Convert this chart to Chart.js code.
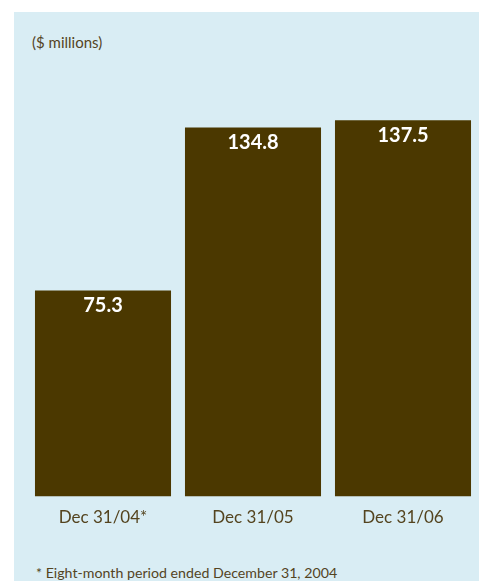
<!DOCTYPE html>
<html lang="en">
<head>
    <meta charset="UTF-8">
    <title>$ millions</title>
    <script src="https://cdn.jsdelivr.net/npm/chart.js"></script>
    <style>
        body { margin: 0; background: #ffffff; width: 479px; height: 581px; overflow: hidden; }
        .panel { position: absolute; left: 14px; top: 12px; width: 465px; height: 569px; background: #d9edf4; }
        .unit { position: absolute; left: 18px; top: 21px; font: 15px Lato, sans-serif; line-height: 18px; color: #54441f; }
        .note { position: absolute; left: 22px; top: 552px; font: 14.2px Lato, sans-serif; line-height: 18px; color: #54441f; white-space: nowrap; }
        .chart-box { position: absolute; left: 0; top: 0; width: 465px; height: 527px; }
    </style>
</head>
<body>
    <div class="panel">
        <div class="unit">($ millions)</div>
        <div class="chart-box"><canvas id="chart"></canvas></div>
        <div class="note">* Eight-month period ended December 31, 2004</div>
    </div>
    <script>
        const periods = ["Dec 31/04*", "Dec 31/05", "Dec 31/06"];
        const revenue = [75.3, 134.8, 137.5];

        // white value labels inside the top of each bar
        const valueLabels = {
            id: "valueLabels",
            afterDatasetsDraw(chart) {
                const ctx = chart.ctx;
                const meta = chart.getDatasetMeta(0);
                ctx.save();
                ctx.fillStyle = "#ffffff";
                ctx.font = "bold 20px Lato, sans-serif";
                ctx.textAlign = "center";
                ctx.textBaseline = "middle";
                meta.data.forEach((bar, i) => {
                    ctx.fillText(revenue[i].toFixed(1), bar.x, bar.y + 15);
                });
                ctx.restore();
            }
        };

        new Chart(document.getElementById("chart"), {
            type: "bar",
            data: {
                labels: periods,
                datasets: [{
                    data: revenue,
                    backgroundColor: "#4b3800",
                    barPercentage: 0.907,
                    categoryPercentage: 1.0
                }]
            },
            options: {
                responsive: true,
                maintainAspectRatio: false,
                animation: false,
                layout: { padding: { left: 14, right: 1, top: 74, bottom: 0 } },
                plugins: {
                    legend: { display: false },
                    tooltip: { enabled: false }
                },
                scales: {
                    x: {
                        grid: { display: false, drawTicks: false },
                        border: { display: false },
                        ticks: {
                            color: "#54441f",
                            font: { family: "Lato", size: 17 },
                            padding: 11
                        }
                    },
                    y: {
                        display: false,
                        min: 0,
                        max: 150
                    }
                }
            },
            plugins: [valueLabels]
        });
    </script>
</body>
</html>
